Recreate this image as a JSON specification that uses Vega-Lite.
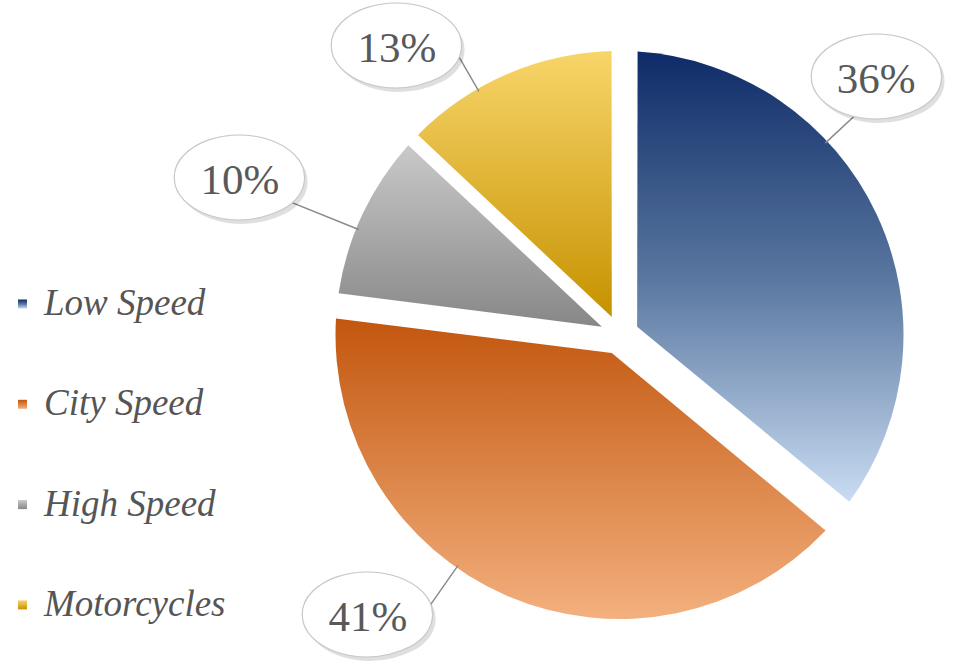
{
  "$schema": "https://vega.github.io/schema/vega-lite/v6.json",
  "width": 570,
  "height": 646,
  "autosize": {"type": "none"},
  "padding": {"left": 334.5, "top": 12, "right": 48.5, "bottom": 5},
  "background": "white",
  "config": {"view": {"stroke": null}},
  "data": {
    "values": [
      {"category": "Low Speed", "share": 0.36, "rank": 1},
      {"category": "City Speed", "share": 0.41, "rank": 2},
      {"category": "High Speed", "share": 0.10, "rank": 3},
      {"category": "Motorcycles", "share": 0.13, "rank": 4}
    ]
  },
  "transform": [
    {"stack": "share", "groupby": [], "sort": [{"field": "rank", "order": "ascending"}], "as": ["start", "end"]}
  ],
  "layer": [
    {
      "encoding": {
        "theta": {"field": "start", "type": "quantitative", "scale": {"domain": [0, 1]}},
        "theta2": {"field": "end"},
        "fill": {
          "field": "category",
          "type": "nominal",
          "scale": {
            "domain": ["Low Speed", "City Speed", "High Speed", "Motorcycles"],
            "range": [
              {"expr": "{gradient: 'linear', x1: 0, y1: 0, x2: 0, y2: 1, stops: [{offset: 0, color: '#0f2b68'}, {offset: 0.5, color: '#58769f'}, {offset: 1, color: '#c9dcf2'}]}"},
              {"expr": "{gradient: 'linear', x1: 0, y1: 0, x2: 0, y2: 1, stops: [{offset: 0, color: '#c2560e'}, {offset: 1, color: '#f3b07e'}]}"},
              {"expr": "{gradient: 'linear', x1: 0, y1: 0, x2: 0, y2: 1, stops: [{offset: 0, color: '#c9c9c9'}, {offset: 1, color: '#878787'}]}"},
              {"expr": "{gradient: 'linear', x1: 0, y1: 0, x2: 0, y2: 1, stops: [{offset: 0, color: '#f8d56a'}, {offset: 1, color: '#c69200'}]}"}
            ]
          },
          "legend": {
            "orient": "none",
            "legendX": -330.5,
            "legendY": 273.5,
            "title": null,
            "symbolType": "square",
            "symbolSize": 81,
            "symbolStrokeWidth": 0,
            "labelFont": "Liberation Serif",
            "labelFontStyle": "italic",
            "labelFontSize": 37,
            "labelColor": "#555555",
            "labelLimit": 400,
            "labelOffset": 3,
            "rowPadding": 62.3
          }
        }
      },
      "layer": [
        {"transform": [{"filter": "datum.category === 'Low Speed'"}],
         "mark": {"type": "arc", "outerRadius": 284, "innerRadius": 19.5, "padAngle": 0.1272}},
        {"transform": [{"filter": "datum.category === 'City Speed'"}],
         "mark": {"type": "arc", "outerRadius": 284, "innerRadius": 19.5, "padAngle": 0.1350}},
        {"transform": [{"filter": "datum.category === 'High Speed'"}],
         "mark": {"type": "arc", "outerRadius": 284, "innerRadius": 19.5, "padAngle": 0.0434}},
        {"transform": [{"filter": "datum.category === 'Motorcycles'"}],
         "mark": {"type": "arc", "outerRadius": 284, "innerRadius": 19.5, "padAngle": 0.0558}}
      ]
    },
    {
      "transform": [{"filter": "datum.category === 'Low Speed'"}],
      "layer": [
        {"mark": {"type": "arc", "outerRadius": 340, "innerRadius": 282, "thetaOffset": 0.82, "theta2Offset": 0.8205, "stroke": "#8a8a8a", "strokeWidth": 1.3, "fill": null},
         "encoding": {"theta": {"field": "start", "type": "quantitative"}, "theta2": {"field": "start"}}},
        {"mark": {"type": "text", "text": "⬬", "font": "DejaVu Sans", "fontSize": 160, "radius": 362, "thetaOffset": 0.7884, "fill": "#000000", "opacity": 0.12, "dx": 3, "dy": 4, "align": "center", "baseline": "middle"},
         "encoding": {"theta": {"field": "start", "type": "quantitative", "stack": null}}},
        {"mark": {"type": "text", "text": "⬬", "font": "DejaVu Sans", "fontSize": 160, "radius": 362, "thetaOffset": 0.7884, "fill": "#ffffff", "stroke": "#c8c8c8", "strokeWidth": 1.2, "align": "center", "baseline": "middle"},
         "encoding": {"theta": {"field": "start", "type": "quantitative", "stack": null}}},
        {"mark": {"type": "text", "font": "Liberation Serif", "fontSize": 43, "radius": 362, "thetaOffset": 0.7884, "fill": "#595959", "align": "center", "baseline": "middle"},
         "encoding": {"theta": {"field": "start", "type": "quantitative", "stack": null}, "text": {"field": "share", "type": "quantitative", "format": ".0%"}}}
      ]
    },
    {
      "transform": [{"filter": "datum.category === 'City Speed'"}],
      "layer": [
        {"mark": {"type": "arc", "outerRadius": 360, "innerRadius": 282, "thetaOffset": 1.4905, "theta2Offset": 1.491, "stroke": "#8a8a8a", "strokeWidth": 1.3, "fill": null},
         "encoding": {"theta": {"field": "start", "type": "quantitative"}, "theta2": {"field": "start"}}},
        {"mark": {"type": "text", "text": "⬬", "font": "DejaVu Sans", "fontSize": 160, "radius": 378.6, "thetaOffset": 1.6062, "fill": "#000000", "opacity": 0.12, "dx": 3, "dy": 4, "align": "center", "baseline": "middle"},
         "encoding": {"theta": {"field": "start", "type": "quantitative", "stack": null}}},
        {"mark": {"type": "text", "text": "⬬", "font": "DejaVu Sans", "fontSize": 160, "radius": 378.6, "thetaOffset": 1.6062, "fill": "#ffffff", "stroke": "#c8c8c8", "strokeWidth": 1.2, "align": "center", "baseline": "middle"},
         "encoding": {"theta": {"field": "start", "type": "quantitative", "stack": null}}},
        {"mark": {"type": "text", "font": "Liberation Serif", "fontSize": 43, "radius": 378.6, "thetaOffset": 1.6062, "fill": "#595959", "align": "center", "baseline": "middle"},
         "encoding": {"theta": {"field": "start", "type": "quantitative", "stack": null}, "text": {"field": "share", "type": "quantitative", "format": ".0%"}}}
      ]
    },
    {
      "transform": [{"filter": "datum.category === 'High Speed'"}],
      "layer": [
        {"mark": {"type": "arc", "outerRadius": 380, "innerRadius": 282, "thetaOffset": 0.2583, "theta2Offset": 0.2588, "stroke": "#8a8a8a", "strokeWidth": 1.3, "fill": null},
         "encoding": {"theta": {"field": "start", "type": "quantitative"}, "theta2": {"field": "start"}}},
        {"mark": {"type": "text", "text": "⬬", "font": "DejaVu Sans", "fontSize": 160, "radius": 409.6, "thetaOffset": 0.2597, "fill": "#000000", "opacity": 0.12, "dx": 3, "dy": 4, "align": "center", "baseline": "middle"},
         "encoding": {"theta": {"field": "start", "type": "quantitative", "stack": null}}},
        {"mark": {"type": "text", "text": "⬬", "font": "DejaVu Sans", "fontSize": 160, "radius": 409.6, "thetaOffset": 0.2597, "fill": "#ffffff", "stroke": "#c8c8c8", "strokeWidth": 1.2, "align": "center", "baseline": "middle"},
         "encoding": {"theta": {"field": "start", "type": "quantitative", "stack": null}}},
        {"mark": {"type": "text", "font": "Liberation Serif", "fontSize": 43, "radius": 409.6, "thetaOffset": 0.2597, "fill": "#595959", "align": "center", "baseline": "middle"},
         "encoding": {"theta": {"field": "start", "type": "quantitative", "stack": null}, "text": {"field": "share", "type": "quantitative", "format": ".0%"}}}
      ]
    },
    {
      "transform": [{"filter": "datum.category === 'Motorcycles'"}],
      "layer": [
        {"mark": {"type": "arc", "outerRadius": 345, "innerRadius": 282, "thetaOffset": 0.2932, "theta2Offset": 0.2937, "stroke": "#8a8a8a", "strokeWidth": 1.3, "fill": null},
         "encoding": {"theta": {"field": "start", "type": "quantitative"}, "theta2": {"field": "start"}}},
        {"mark": {"type": "text", "text": "⬬", "font": "DejaVu Sans", "fontSize": 160, "radius": 362.4, "thetaOffset": 0.1557, "fill": "#000000", "opacity": 0.12, "dx": 3, "dy": 4, "align": "center", "baseline": "middle"},
         "encoding": {"theta": {"field": "start", "type": "quantitative", "stack": null}}},
        {"mark": {"type": "text", "text": "⬬", "font": "DejaVu Sans", "fontSize": 160, "radius": 362.4, "thetaOffset": 0.1557, "fill": "#ffffff", "stroke": "#c8c8c8", "strokeWidth": 1.2, "align": "center", "baseline": "middle"},
         "encoding": {"theta": {"field": "start", "type": "quantitative", "stack": null}}},
        {"mark": {"type": "text", "font": "Liberation Serif", "fontSize": 43, "radius": 362.4, "thetaOffset": 0.1557, "fill": "#595959", "align": "center", "baseline": "middle"},
         "encoding": {"theta": {"field": "start", "type": "quantitative", "stack": null}, "text": {"field": "share", "type": "quantitative", "format": ".0%"}}}
      ]
    }
  ]
}
